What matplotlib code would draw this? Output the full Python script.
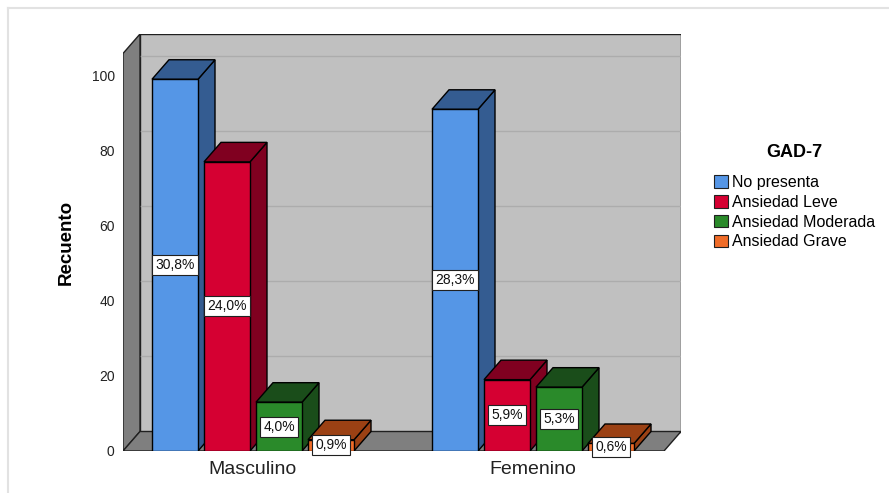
import numpy as np
import matplotlib
matplotlib.use('Agg')
import matplotlib.pyplot as plt
from matplotlib.patches import Polygon, Patch
from matplotlib.lines import Line2D

plt.rcParams['font.family'] = ['Liberation Sans', 'DejaVu Sans']

categories = ['Masculino', 'Femenino']
series = ['No presenta', 'Ansiedad Leve', 'Ansiedad Moderada', 'Ansiedad Grave']
counts = {
    'No presenta': [99, 91],
    'Ansiedad Leve': [77, 19],
    'Ansiedad Moderada': [13, 17],
    'Ansiedad Grave': [3, 2],
}
yticks = [0, 20, 40, 60, 80, 100]

front_colors = ['#5596e6', '#d50032', '#2a8a2a', '#f06c28']
dark_colors = ['#345c91', '#800020', '#1a4d1a', '#9b4114']

W, H = 889, 493
fig = plt.figure(figsize=(W / 100, H / 100), dpi=100)

# plot region in pixels (front plane + depth)
px_left, px_right, px_top, px_bottom = 123, 681, 34, 451
ppc = 280.0          # pixels per category
ppu = 3.755          # pixels per count unit
ddx_px, ddy_px = 17, 19.5

ax = fig.add_axes([px_left / W, (H - px_bottom) / H,
                   (px_right - px_left) / W, (px_bottom - px_top) / H])
x0 = -(253 - px_left) / ppc
x1 = x0 + (px_right - px_left) / ppc
ymax = (px_bottom - px_top) / ppu
ax.set_xlim(x0, x1)
ax.set_ylim(0, ymax)
dx = ddx_px / ppc
dy = ddy_px / ppu
xf = x1 - dx  # right edge of front plane
ytop_f = ymax - dy

for s in ax.spines.values():
    s.set_visible(False)

# walls
ax.add_patch(Polygon([(x0 + dx, dy), (x1, dy), (x1, ymax), (x0 + dx, ymax)],
                     closed=True, fc='#c0c0c0', ec='#202020', lw=1, zorder=1))
for v in yticks[1:]:
    ax.plot([x0 + dx, x1], [v + dy, v + dy], color='#acacac', lw=1, zorder=1.5)
ax.add_patch(Polygon([(x0, 0), (x0 + dx, dy), (x0 + dx, ymax), (x0, ytop_f)],
                     closed=True, fc='#7f7f7f', ec='#202020', lw=1, zorder=2))
ax.add_patch(Polygon([(x0, 0), (xf, 0), (x1, dy), (x0 + dx, dy)],
                     closed=True, fc='#7f7f7f', ec='#202020', lw=1, zorder=2))

# bars
bw = 46 / ppc
offsets = np.array([-78, -26, 26, 78]) / ppc
total = sum(sum(v) for v in counts.values())
xc = np.arange(len(categories))

z = 3
for ci in range(len(categories)):
    for si, name in enumerate(series):
        v = counts[name][ci]
        cx = xc[ci] + offsets[si]
        l, r = cx - bw / 2, cx + bw / 2
        ax.add_patch(Polygon([(r, 0), (r + dx, dy), (r + dx, v + dy), (r, v)],
                             closed=True, fc=dark_colors[si], ec='black', lw=1, zorder=z))
        ax.add_patch(Polygon([(l, v), (r, v), (r + dx, v + dy), (l + dx, v + dy)],
                             closed=True, fc=dark_colors[si], ec='black', lw=1, zorder=z))
        ax.bar(cx, v, width=bw, color=front_colors[si], edgecolor='black', lw=1, zorder=z + 0.5)
        pct = f"{v / total * 100:.1f}".replace('.', ',') + '%'
        ax.text(cx, v / 2, pct, ha='center', va='center', fontsize=10, color='#111111',
                zorder=50, bbox=dict(boxstyle='square,pad=0.22', fc='white', ec='#202020', lw=0.8))
        z += 1

ax.set_xticks(xc)
ax.set_xticklabels(categories, fontsize=14, color='#222222')
ax.set_yticks(yticks)
ax.set_yticklabels([str(t) for t in yticks], fontsize=10, color='#222222')
ax.tick_params(length=0)
ax.tick_params(axis='x', pad=7)
ax.tick_params(axis='y', pad=6)
ax.set_ylabel('Recuento', fontsize=13.5, fontweight='bold', labelpad=12)

handles = [Patch(fc=c, ec='#202020', lw=0.8) for c in front_colors]
leg = fig.legend(handles, series, loc='upper left', bbox_to_anchor=(703 / W, 1 - 133 / H),
                 frameon=False, fontsize=11.5, title='GAD-7',
                 title_fontproperties={'weight': 'bold', 'size': 13},
                 handlelength=0.85, handleheight=0.85, handletextpad=0.25,
                 labelspacing=0.3, borderpad=0.2)
leg._legend_box.sep = 10

# light outer frame
fig.add_artist(Line2D([8 / W, 8 / W], [0, 1 - 8 / H], color='#e2e2e2', lw=1.5))
fig.add_artist(Line2D([8 / W, 1], [1 - 8 / H, 1 - 8 / H], color='#e2e2e2', lw=1.5))

fig.savefig('out.png', dpi=100)
